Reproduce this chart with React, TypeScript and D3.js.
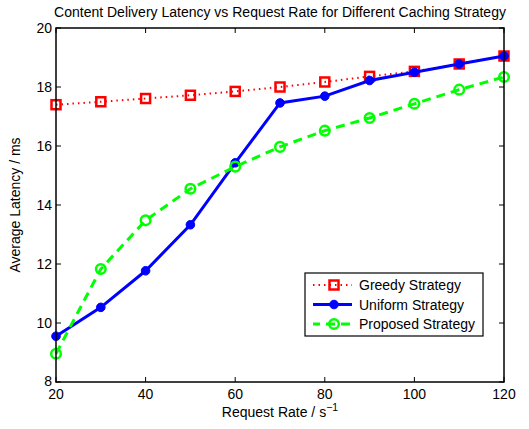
import React from "react";
import * as d3 from "d3";

// Request rate (1/s) for every measurement
const requestRates = [20, 30, 40, 50, 60, 70, 80, 90, 100, 110, 120];

// Average latency (ms) per strategy
const greedyLatency = [17.4, 17.5, 17.61, 17.72, 17.85, 18.0, 18.17, 18.36, 18.53, 18.78, 19.05];
const uniformLatency = [9.55, 10.53, 11.77, 13.33, 15.43, 17.46, 17.69, 18.22, 18.5, 18.78, 19.05];
const proposedLatency = [8.96, 11.83, 13.48, 14.55, 15.3, 15.97, 16.52, 16.95, 17.43, 17.91, 18.34];

const xTicks = [20, 40, 60, 80, 100, 120];
const yTicks = [8, 10, 12, 14, 16, 18, 20];

const W = 529;
const H = 429;
const left = 56;
const right = 504;
const top = 28;
const bottom = 382;
const FONT = "'Liberation Sans', Arial, Helvetica, sans-serif";
const FS = 14;

const x = d3.scaleLinear().domain([20, 120]).range([left, right]);
const y = d3.scaleLinear().domain([8, 20]).range([bottom, top]);

type Pt = [number, number];
const pts = (vals: number[]): Pt[] => requestRates.map((r, i) => [r, vals[i]]);
const line = d3
  .line<Pt>()
  .x((d) => x(d[0]))
  .y((d) => y(d[1]));

const RED = "#ff0000";
const BLUE = "#0000ff";
const GREEN = "#00ff00";

function Square({ cx, cy }: { cx: number; cy: number }) {
  return (
    <rect x={cx - 4.5} y={cy - 4.5} width={9} height={9} fill="none" stroke={RED} strokeWidth={2.5} />
  );
}
function Dot({ cx, cy }: { cx: number; cy: number }) {
  return <circle cx={cx} cy={cy} r={4.3} fill={BLUE} stroke={BLUE} strokeWidth={1} />;
}
function Ring({ cx, cy }: { cx: number; cy: number }) {
  return <circle cx={cx} cy={cy} r={4.8} fill="none" stroke={GREEN} strokeWidth={2.5} />;
}

export default function App() {
  const legendX = 305;
  const legendY = 273;
  const legendW = 178;
  const legendH = 63;
  const rows = [285, 304.5, 324];
  const sx0 = 313;
  const sx1 = 352;
  const sm = 334;

  return (
    <svg
      width={W}
      height={H}
      style={{ position: "absolute", left: 0, top: 0, background: "#fff" }}
      fontFamily={FONT}
    >
      <rect x={0} y={0} width={W} height={H} fill="#fff" />
      {/* title */}
      <text x={(left + right) / 2} y={16.5} textAnchor="middle" fontSize={FS} fill="#000">
        Content Delivery Latency vs Request Rate for Different Caching Strategy
      </text>

      {/* series */}
      <path d={line(pts(greedyLatency)) || ""} fill="none" stroke={RED} strokeWidth={2} strokeDasharray="1.5 4" />
      {pts(greedyLatency).map((d, i) => (
        <Square key={`g${i}`} cx={x(d[0])} cy={y(d[1])} />
      ))}
      <path d={line(pts(uniformLatency)) || ""} fill="none" stroke={BLUE} strokeWidth={3} />
      {pts(uniformLatency).map((d, i) => (
        <Dot key={`u${i}`} cx={x(d[0])} cy={y(d[1])} />
      ))}
      <path d={line(pts(proposedLatency)) || ""} fill="none" stroke={GREEN} strokeWidth={3} strokeDasharray="9 6" />
      {pts(proposedLatency).map((d, i) => (
        <Ring key={`p${i}`} cx={x(d[0])} cy={y(d[1])} />
      ))}

      {/* axes box */}
      <rect x={left} y={top} width={right - left} height={bottom - top} fill="none" stroke="#000" strokeWidth={1.5} />
      {xTicks.map((t) => (
        <g key={`xt${t}`}>
          <line x1={x(t)} x2={x(t)} y1={bottom} y2={bottom - 5} stroke="#000" strokeWidth={1} />
          <line x1={x(t)} x2={x(t)} y1={top} y2={top + 5} stroke="#000" strokeWidth={1} />
          <text x={x(t)} y={bottom + 16.5} textAnchor="middle" fontSize={FS} fill="#000">
            {t}
          </text>
        </g>
      ))}
      {yTicks.map((t) => (
        <g key={`yt${t}`}>
          <line x1={left} x2={left + 5} y1={y(t)} y2={y(t)} stroke="#000" strokeWidth={1} />
          <line x1={right} x2={right - 5} y1={y(t)} y2={y(t)} stroke="#000" strokeWidth={1} />
          <text x={left - 4} y={y(t) + (t === 8 ? 3.5 : 5)} textAnchor="end" fontSize={FS} fill="#000">
            {t}
          </text>
        </g>
      ))}

      {/* axis labels */}
      <text x={(left + right) / 2} y={417} textAnchor="middle" fontSize={FS} fill="#000">
        Request Rate / s
        <tspan dy={-6} fontSize={10.5}>
          −1
        </tspan>
      </text>
      <text
        transform={`translate(20, ${(top + bottom) / 2}) rotate(-90)`}
        textAnchor="middle"
        fontSize={FS}
        fill="#000"
      >
        Average Latency / ms
      </text>

      {/* legend */}
      <rect x={legendX} y={legendY} width={legendW} height={legendH} fill="#fff" stroke="#000" strokeWidth={1.2} />
      <line x1={sx0} x2={sx1} y1={rows[0]} y2={rows[0]} stroke={RED} strokeWidth={2} strokeDasharray="1.5 4" />
      <Square cx={sm} cy={rows[0]} />
      <line x1={sx0} x2={sx1} y1={rows[1]} y2={rows[1]} stroke={BLUE} strokeWidth={3} />
      <Dot cx={sm} cy={rows[1]} />
      <line x1={sx0} x2={sx1} y1={rows[2]} y2={rows[2]} stroke={GREEN} strokeWidth={3} strokeDasharray="9 6" strokeDashoffset={2} />
      <Ring cx={sm} cy={rows[2]} />
      {["Greedy Strategy", "Uniform Strategy", "Proposed Strategy"].map((label, i) => (
        <text key={label} x={359} y={rows[i] + 5} fontSize={FS} fill="#000">
          {label}
        </text>
      ))}
    </svg>
  );
}
